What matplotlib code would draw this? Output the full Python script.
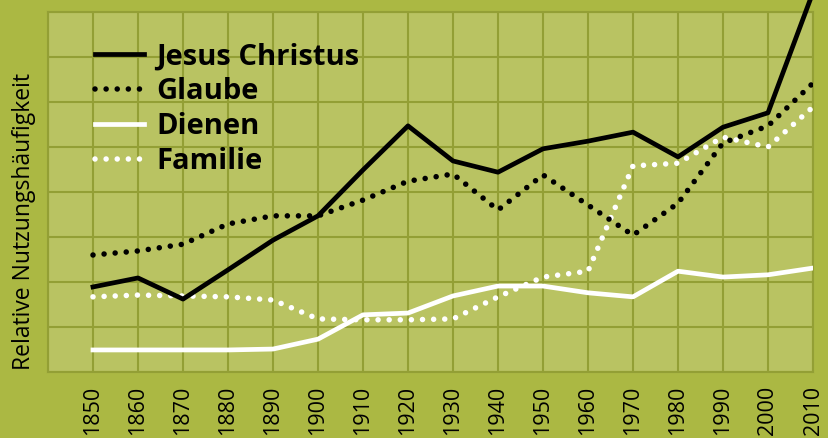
import matplotlib
matplotlib.use("Agg")
import matplotlib.pyplot as plt

years = [1850, 1860, 1870, 1880, 1890, 1900, 1910, 1920, 1930, 1940, 1950, 1960, 1970, 1980, 1990, 2000, 2010]

jesus = [1.89, 2.09, 1.62, 2.27, 2.93, 3.47, 4.49, 5.47, 4.69, 4.44, 4.96, 5.13, 5.33, 4.78, 5.44, 5.76, 8.44]
glaube = [2.60, 2.69, 2.84, 3.29, 3.47, 3.47, 3.82, 4.24, 4.40, 3.60, 4.38, 3.71, 3.04, 3.75, 5.09, 5.47, 6.42]
dienen = [0.49, 0.49, 0.49, 0.49, 0.51, 0.73, 1.27, 1.31, 1.69, 1.91, 1.91, 1.76, 1.67, 2.24, 2.11, 2.16, 2.31]
familie = [1.67, 1.71, 1.69, 1.67, 1.60, 1.18, 1.16, 1.16, 1.18, 1.67, 2.11, 2.24, 4.58, 4.64, 5.22, 5.00, 5.89]

outer_bg = "#abb843"
plot_bg = "#b9c362"
grid_col = "#939f35"

fig = plt.figure(figsize=(8.29, 4.38), dpi=100, facecolor=outer_bg)
ax = fig.add_axes([48/829, 66/438, 765/829, 360/438])
ax.set_facecolor(plot_bg)

dots = (0, (0.001, 2.0))
ax.plot(years, jesus, color="black", lw=3.4, label="Jesus Christus", clip_on=False, zorder=5)
ax.plot(years, glaube, color="black", lw=4, linestyle=dots, dash_capstyle="round", label="Glaube", zorder=4)
ax.plot(years, dienen, color="white", lw=3.4, label="Dienen", zorder=3)
ax.plot(years, familie, color="white", lw=4, linestyle=dots, dash_capstyle="round", label="Familie", zorder=3)

ax.set_xlim(1840, 2010)
ax.set_ylim(0, 8)
ax.set_xticks(years)
ax.set_xticks(range(1840, 2011, 10), minor=True)
ax.set_yticks(range(0, 9))
ax.set_yticklabels([])
ax.grid(True, which="both", color=grid_col, lw=1.5)
ax.set_axisbelow(True)
ax.tick_params(length=0, which="both")
ax.tick_params(axis="x", pad=10)
for lbl in ax.get_xticklabels():
    lbl.set_rotation(90)
    lbl.set_fontsize(15.5)
    lbl.set_family("Open Sans")
for s in ax.spines.values():
    s.set_color(grid_col)
    s.set_linewidth(1.5)

fig.text(24/829, 1 - 222/438, "Relative Nutzungshäufigkeit", rotation=90,
         ha="center", va="center", fontsize=16.5, family="Open Sans")

leg = ax.legend(loc="upper left", bbox_to_anchor=(0.061, 0.916), frameon=False,
                prop={"family": "Open Sans", "weight": "bold", "size": 21},
                handlelength=1.7, handletextpad=0.42, labelspacing=0.2,
                borderpad=0, borderaxespad=0)

fig.savefig("out.png", dpi=100, facecolor=outer_bg)
